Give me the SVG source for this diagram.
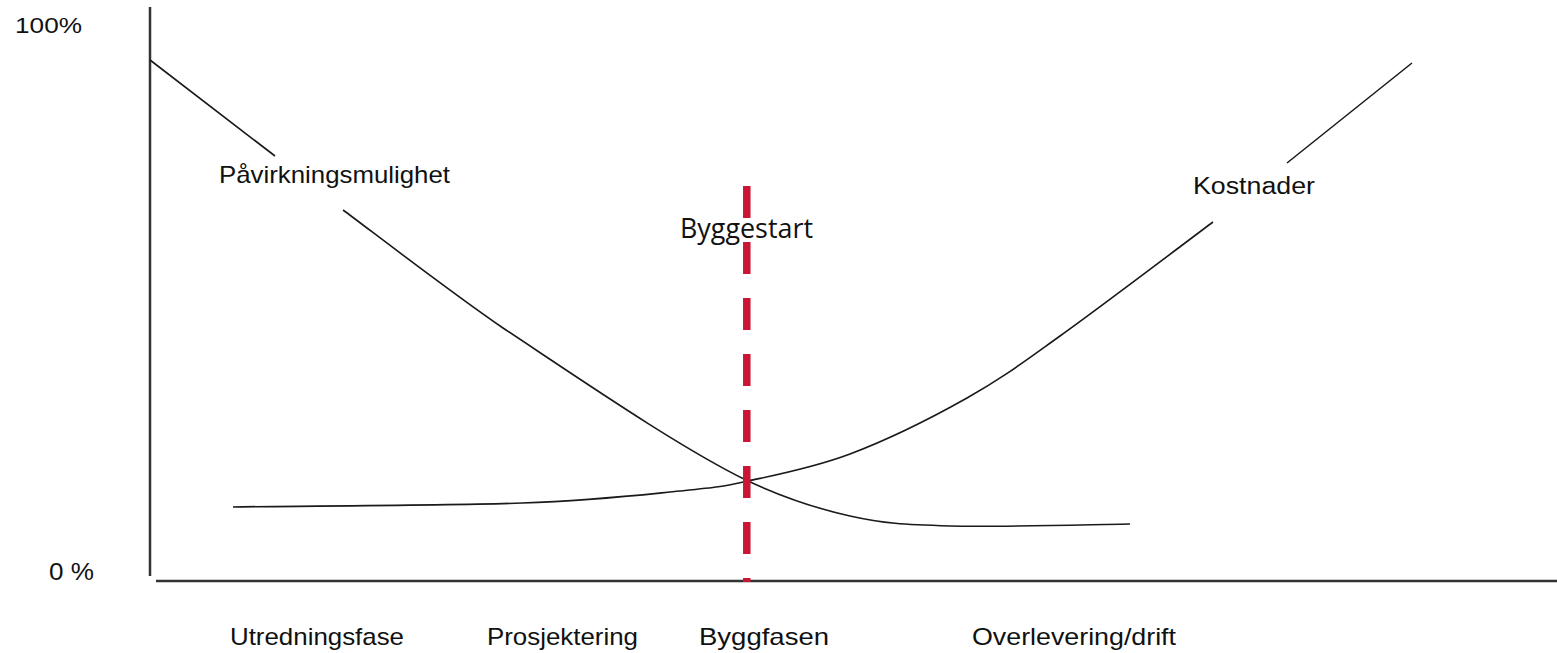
<svg xmlns="http://www.w3.org/2000/svg" width="1557" height="653" viewBox="0 0 1557 653">
<style>
.axis{stroke:#333;stroke-width:2.5;fill:none}
.curve{stroke:#1a1a1a;stroke-width:1.6;fill:none;stroke-linejoin:round}
.lbl{font-family:"Liberation Sans",Arial,sans-serif;fill:#111}
.marker{stroke:#C91536;stroke-width:7.5;stroke-dasharray:32 24;fill:none}
.bs{font-family:"Open Sans","Noto Sans",sans-serif;font-size:28px;fill:#111}
</style>
<rect width="1557" height="653" fill="#fff"/>
<g id="axes">
<line class="axis" x1="150" y1="7" x2="150" y2="576"/>
<line class="axis" x1="156" y1="581" x2="1557" y2="581"/>
</g>
<g id="y-labels">
<text class="lbl" x="15" y="33" font-size="22" textLength="67" lengthAdjust="spacingAndGlyphs">100%</text>
<text class="lbl" x="49" y="580" font-size="23" textLength="45" lengthAdjust="spacingAndGlyphs">0 %</text>
</g>
<g id="connectors">
<path id="pavirkning-curve" class="curve" d="M150,60 L275,156 M343,210 C369.7,229.7 449.7,291.5 503,328 C580,379 680,448 748,481 C779.2,495.5 816.3,508.5 850,516 C883.7,523.5 903.3,524.7 950,526 C996.7,527.3 1100,524.3 1130,524"/>
<path id="kostnader-curve" class="curve" d="M233,507 C281,506 447.5,505.7 522,503 C596.5,500.3 642.3,494.7 680,491 C717.7,487.3 719.7,487.2 748,481 C776.3,474.8 813.5,467.8 850,454 C886.5,440.2 932,417.7 967,398 C1002,378.3 1019,365.3 1060,336 C1101,306.7 1187.5,241 1213,222 M1287,163 L1412,63"/>
<line id="byggestart-line" class="marker" x1="746.8" y1="186" x2="746.8" y2="582"/>
</g>
<g id="pavirkning">
<text class="lbl" x="219" y="183" font-size="24" textLength="231" lengthAdjust="spacingAndGlyphs">Påvirkningsmulighet</text>
</g>
<g id="kostnader">
<text class="lbl" x="1193" y="194" font-size="23" textLength="122" lengthAdjust="spacingAndGlyphs">Kostnader</text>
</g>
<g id="byggestart">
<text class="bs" x="680" y="238" textLength="133" lengthAdjust="spacingAndGlyphs">Byggestart</text>
</g>
<g id="phases">
<text class="lbl" x="230" y="645" font-size="24" textLength="174" lengthAdjust="spacingAndGlyphs">Utredningsfase</text>
<text class="lbl" x="487" y="645" font-size="24" textLength="151" lengthAdjust="spacingAndGlyphs">Prosjektering</text>
<text class="lbl" x="699" y="645" font-size="24" textLength="130" lengthAdjust="spacingAndGlyphs">Byggfasen</text>
<text class="lbl" x="972" y="645" font-size="24" textLength="204" lengthAdjust="spacingAndGlyphs">Overlevering/drift</text>
</g>
</svg>
